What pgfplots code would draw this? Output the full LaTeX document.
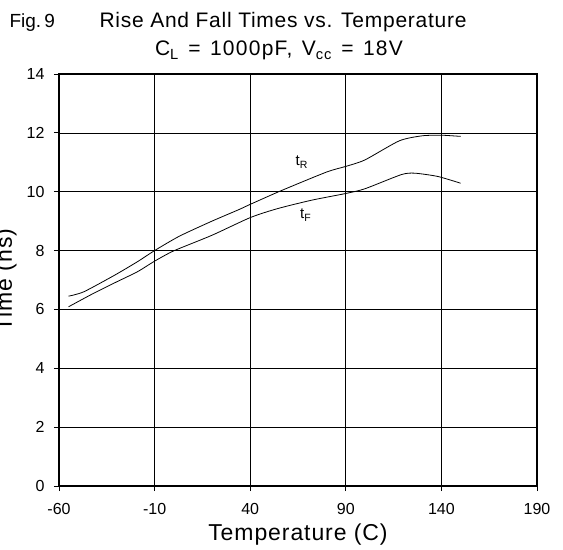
\documentclass[border=0pt]{standalone}
\usepackage{fontspec}
\setmainfont{Liberation Sans}
\usepackage{pgfplots}
\pgfplotsset{compat=1.18}
\begin{document}
\begin{tikzpicture}
\begin{axis}[
  at={(0,0)}, anchor=south west,
  scale only axis, width=478bp, height=412bp,
  xmin=-60, xmax=190, ymin=0, ymax=14,
  xtick={-60,-10,40,90,140,190},
  ytick={0,2,4,6,8,10,12,14},
  grid=major,
  major grid style={black, line width=0.7pt},
  axis line style={black, line width=1.1pt},
  tick style={black, line width=0.9pt},
  tick align=outside,
  tick pos=left,
  major tick length=5bp,
  /pgf/number format/assume math mode=true,
  ticklabel style={font=\fontsize{16bp}{19bp}\selectfont},
  xticklabel style={yshift=-9bp},
  yticklabel style={xshift=-6bp},
  xlabel={Temperature (C)},
  ylabel={Time (ns)},
  xlabel style={at={([yshift=-54bp]axis description cs:0.5,0)}, anchor=base, font=\fontsize{23bp}{27bp}\selectfont\addfontfeatures{LetterSpace=4}},
  ylabel style={at={([xshift=-47bp]axis description cs:0,0.5)}, anchor=base, font=\fontsize{23bp}{27bp}\selectfont\addfontfeatures{LetterSpace=4}},
  clip=false,
]
\addplot[black, line width=0.8pt, smooth, tension=0.4] coordinates {
(-55,6.45) (-47,6.6) (-31,7.16) (-19,7.62) (-10,8.0) (3,8.49) (20,9.0) (34,9.39) (40,9.57) (56,10.03) (80,10.67) (90,10.86) (100,11.08) (118,11.73) (130,11.9) (140,11.92) (150,11.88)
};
\addplot[black, line width=0.8pt, smooth, tension=0.4] coordinates {
(-55,6.09) (-43,6.51) (-31,6.9) (-19,7.28) (-10,7.64) (0,7.99) (20,8.52) (40,9.12) (54,9.42) (72,9.71) (90,9.94) (100,10.1) (119,10.58) (126,10.63) (138,10.52) (150,10.29)
};
\node[font=\fontsize{15bp}{17bp}\selectfont] at (axis cs:67,11.0) {t\textsubscript{R}};
\node[font=\fontsize{15bp}{17bp}\selectfont] at (axis cs:69,9.2) {t\textsubscript{F}};
\end{axis}
\node[anchor=base west, font=\fontsize{19bp}{23bp}\selectfont] at (-53bp,458bp) {Fig.\,9};
\node[anchor=base, font=\fontsize{21bp}{25bp}\selectfont\addfontfeatures{LetterSpace=3.5}] at (224bp,458bp) {Rise And Fall Times vs. Temperature};
\node[anchor=base, font=\fontsize{21bp}{25bp}\selectfont\addfontfeatures{LetterSpace=6}] at (220bp,430bp) {C\textsubscript{L}\hspace{0.45em}=\hspace{0.45em}1000pF,\hspace{0.45em}V\textsubscript{cc}\hspace{0.45em}=\hspace{0.45em}18V};
\pgfresetboundingbox
\useasboundingbox (-59bp,-64bp) rectangle (504bp,486bp);
\end{tikzpicture}
\end{document}
